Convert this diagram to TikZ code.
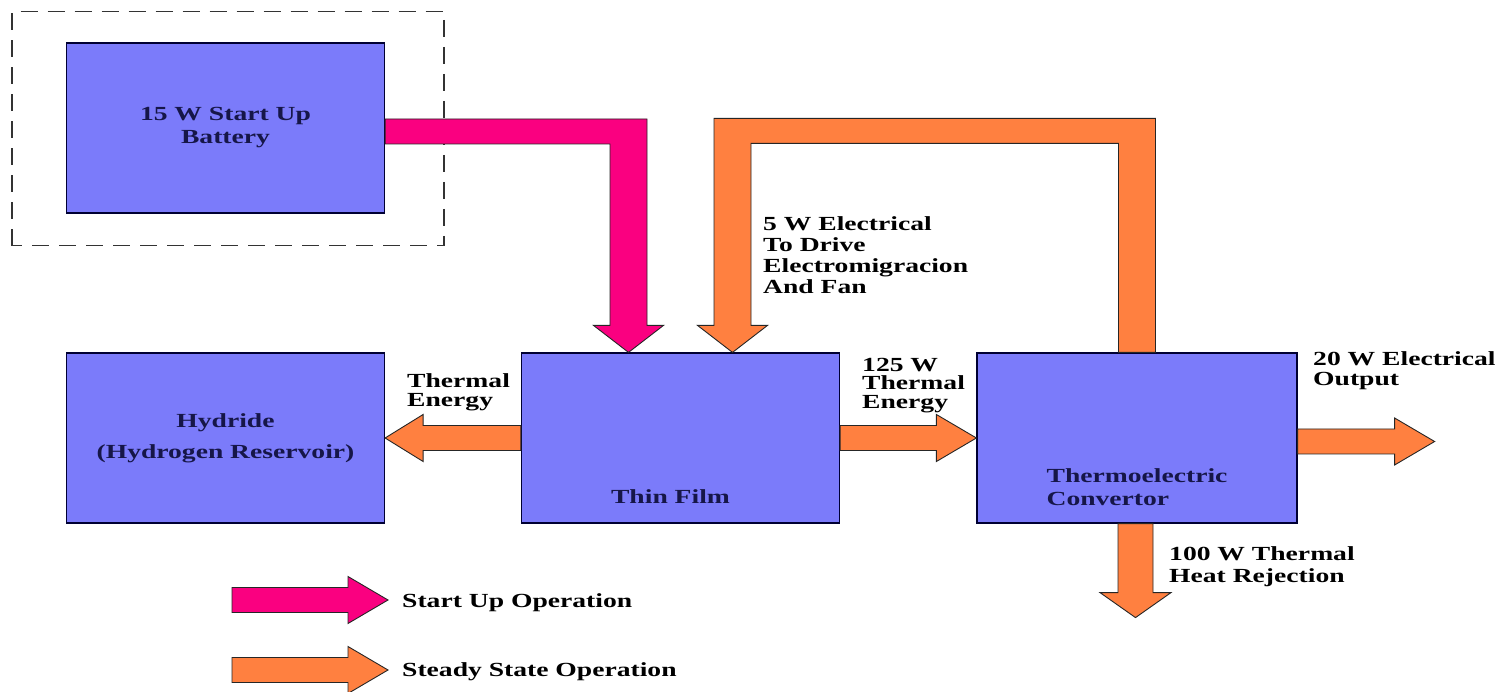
\documentclass[tikz,border=0pt]{standalone}
\usepackage{fontspec}
\setmainfont{Liberation Serif}[FakeStretch=1.38]
\usetikzlibrary{calc}
\definecolor{boxblue}{HTML}{7B7BFA}
\definecolor{boxink}{HTML}{161648}
\definecolor{startpink}{HTML}{FA0080}
\definecolor{steadyorange}{HTML}{FF8040}
\tikzset{
  blk/.style={draw=black!80!blue, fill=boxblue, line width=1.2pt, minimum width=318pt,
              minimum height=170pt, inner sep=0pt, align=center, text=boxink,
              font=\bfseries\fontsize{20}{23}\selectfont},
  blktxt/.style={inner sep=0pt, text=boxink, align=left, font=\bfseries\fontsize{20}{23}\selectfont},
  lbl/.style={inner sep=0pt, anchor=north west, align=left, font=\bfseries\fontsize{20}{#1}\selectfont},
  lbl/.default=21,
  startup/.style={draw=black!85, fill=startpink, line width=0.9pt, line join=miter},   % start up flow
  steady/.style={draw=black!85, fill=steadyorange, line width=0.9pt, line join=miter}, % steady state flow
  grpframe/.style={draw=black!80, line width=1.3pt, dash pattern=on 17pt off 10pt},
}
% block arrows: style, tail, tip
\newcommand{\blockright}[3]{%
  \draw[#1] let \p1=(#2), \p2=(#3) in
    (\x1,\y2+12.5) -- (\x2-40,\y2+12.5) -- (\x2-40,\y2+23.5) -- (\x2,\y2)
    -- (\x2-40,\y2-23.5) -- (\x2-40,\y2-12.5) -- (\x1,\y2-12.5) -- cycle;}
\newcommand{\blockleft}[3]{%
  \draw[#1] let \p1=(#2), \p2=(#3) in
    (\x1,\y2+12.5) -- (\x2+38,\y2+12.5) -- (\x2+38,\y2+23.5) -- (\x2,\y2)
    -- (\x2+38,\y2-23.5) -- (\x2+38,\y2-12.5) -- (\x1,\y2-12.5) -- cycle;}
\newcommand{\blockdown}[3]{%
  \draw[#1] let \p1=(#2), \p2=(#3) in
    (\x2-17.5,\y1) -- (\x2-17.5,\y2+25) -- (\x2-35.5,\y2+25) -- (\x2,\y2)
    -- (\x2+35.5,\y2+25) -- (\x2+17.5,\y2+25) -- (\x2+17.5,\y1) -- cycle;}

\begin{document}
\begin{tikzpicture}[x=1pt, y=1pt]
  \useasboundingbox (0,0) rectangle (1501,691);
  % blocks
  \node[blk] (bat) at (225.5,563) {15 W Start Up\\Battery};
  \node[blk, font=\bfseries\fontsize{20}{31}\selectfont] (hy) at (225.5,253) {Hydride\\(Hydrogen Reservoir)};
  \node[blk] (tf) at (680.5,253) {};
  \node[blk, minimum width=320pt] (th) at (1137,253) {};
  \node[blktxt] (tftxt) at ($(tf.south)+(-10,27)$) {Thin Film};
  \node[blktxt, anchor=north west] (thtxt) at ($(th.west)+(70,-30)$) {Thermoelectric\\Convertor};
  \draw[grpframe] ($(bat.south west)+(-54,-32)$) rectangle ($(bat.north east)+(59,31)$);

  % start up flow
  \draw[startup] let \p1=($(bat.east)+(0,-3.5)$), \p2=($(tf.north)+(-52,0)$) in
    (\x1,\y1+12.5) -- (\x2+18.5,\y1+12.5) -- (\x2+18.5,\y2+27) -- (\x2+35,\y2+27) -- (\x2,\y2)
    -- (\x2-35,\y2+27) -- (\x2-18.5,\y2+27) -- (\x2-18.5,\y1-12.5) -- (\x1,\y1-12.5) -- cycle;

  % steady state flows
  \draw[steady] let \p1=(th.north), \p2=($(tf.north)+(52,0)$) in
    (\x1+18.5,\y1) -- (\x1+18.5,\y2+234) -- (\x2-18.5,\y2+234) -- (\x2-18.5,\y2+27) -- (\x2-35,\y2+27)
    -- (\x2,\y2) -- (\x2+35,\y2+27) -- (\x2+18.5,\y2+27) -- (\x2+18.5,\y2+209) -- (\x1-18.5,\y2+209)
    -- (\x1-18.5,\y1) -- cycle;
  \blockleft{steady}{tf.west}{hy.east}
  \blockright{steady}{tf.east}{th.west}
  \coordinate (out) at ($(th.east)+(137,-3.5)$);
  \blockright{steady}{th.east}{out}
  \coordinate (rej) at ($(th.south)+(-1.5,-94)$);
  \blockdown{steady}{th.south}{rej}

  % labels
  \node[lbl=19] (thl) at (407,318) {Thermal\\Energy};
  \node[lbl=18.5] (p125) at (862,333) {125 W\\Thermal\\Energy};
  \node[lbl=21.2] (p5) at (763,475) {5 W Electrical\\To Drive\\Electromigracion\\And Fan};
  \node[lbl=20] (p20) at (1313,340) {20 W Electrical\\Output};
  \node[lbl=22] (p100) at (1169,145) {100 W Thermal\\Heat Rejection};

  % legend
  \coordinate (lga) at (232,91);
  \coordinate (lgb) at (388,91);
  \coordinate (lgc) at (232,21);
  \coordinate (lgd) at (388,21);
  \blockright{startup}{lga}{lgb}
  \blockright{steady}{lgc}{lgd}
  \node[lbl, anchor=base west] (lgsu) at (402,83.5) {Start Up Operation};
  \node[lbl, anchor=base west] (lgss) at (402,14.5) {Steady State Operation};
\end{tikzpicture}
\end{document}
